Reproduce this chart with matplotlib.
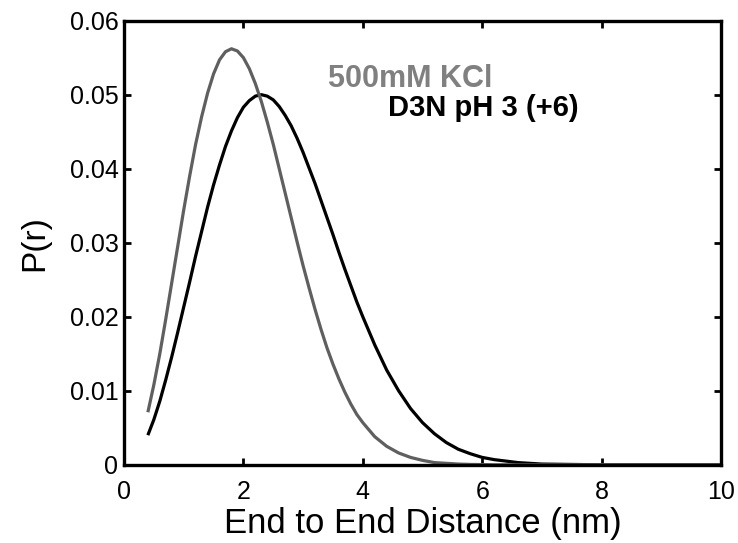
import matplotlib
matplotlib.use('Agg')
import matplotlib.pyplot as plt

plt.rcParams['font.family'] = ['Liberation Sans', 'DejaVu Sans']

# distance axis (nm)
r_nm = [0.4, 0.5, 0.6, 0.7, 0.8, 0.9, 1.0, 1.1, 1.2, 1.3, 1.4, 1.5, 1.6,
        1.7, 1.8, 1.9, 2.0, 2.1, 2.2, 2.3, 2.4, 2.5, 2.6, 2.7, 2.8, 2.9,
        3.0, 3.1, 3.2, 3.3, 3.4, 3.5, 3.6, 3.7, 3.8, 3.9, 4.0,
        4.2, 4.4, 4.6, 4.8, 5.0, 5.2, 5.4, 5.6, 5.8, 6.0, 6.2, 6.4, 6.6,
        6.8, 7.0, 8.0, 9.0, 10.0]

# 500mM KCl (gray)
p_kcl = [0.0071, 0.0108, 0.0150, 0.0197, 0.0246, 0.0295, 0.0344, 0.0390,
         0.0433, 0.0470, 0.0502, 0.0528, 0.0547, 0.0558, 0.0562, 0.0559,
         0.0550, 0.0535, 0.0515, 0.0491, 0.0463, 0.0433, 0.0400, 0.0367,
         0.0334, 0.0301, 0.0269, 0.0239, 0.0210, 0.0183, 0.0158, 0.0136,
         0.0116, 0.0098, 0.0082, 0.0068, 0.0057,
         0.0038, 0.0025, 0.0016, 0.0010, 0.0006, 0.0003, 0.0002, 0.0001,
         0.00005, 0.00003, 0.0, 0.0, 0.0, 0.0, 0.0, 0.0, 0.0, 0.0]

# D3N pH 3 (+6) (black)
p_d3n = [0.0040, 0.0061, 0.0086, 0.0115, 0.0146, 0.0179, 0.0213, 0.0247,
         0.0282, 0.0315, 0.0348, 0.0378, 0.0405, 0.0430, 0.0451, 0.0469,
         0.0483, 0.0492, 0.0498, 0.0500, 0.0498, 0.0493, 0.0484, 0.0472,
         0.0458, 0.0441, 0.0422, 0.0401, 0.0380, 0.0357, 0.0334, 0.0311,
         0.0287, 0.0264, 0.0242, 0.0220, 0.0200,
         0.0162, 0.0128, 0.0100, 0.0076, 0.0057, 0.0042, 0.0030, 0.0021,
         0.0015, 0.0010, 0.0007, 0.0005, 0.0003, 0.0002, 0.0001, 0.0, 0.0,
         0.0]

fig = plt.figure(figsize=(7.38, 5.43), dpi=100)
ax = fig.add_axes([0.168, 0.144, 0.809, 0.818])

ax.plot(r_nm, p_d3n, color='black', lw=2.3, solid_capstyle='butt')
ax.plot(r_nm, p_kcl, color='#5f5f5f', lw=2.3, solid_capstyle='butt')

ax.text(3.42, 0.0511, '500mM KCl', color='#808080', fontsize=22, weight='bold')
ax.text(4.43, 0.0471, 'D3N pH 3 (+6)', color='black', fontsize=21, weight='bold')

ax.set_xlim(0, 10)
ax.set_ylim(0, 0.06)
ax.set_xticks([0, 2, 4, 6, 8, 10])
ax.set_yticks([0, 0.01, 0.02, 0.03, 0.04, 0.05, 0.06])
ax.set_yticklabels(['0', '0.01', '0.02', '0.03', '0.04', '0.05', '0.06'])
ax.tick_params(direction='in', length=5, width=2, labelsize=18,
               top=True, right=True)
ax.tick_params(axis='x', pad=11)
ax.tick_params(axis='y', pad=4)
for s in ax.spines.values():
    s.set_linewidth(2.4)

ax.set_xlabel('End to End Distance (nm)', fontsize=25, labelpad=2)
ax.set_ylabel('P(r)', fontsize=24, labelpad=14)

fig.savefig('out.png', dpi=100)
